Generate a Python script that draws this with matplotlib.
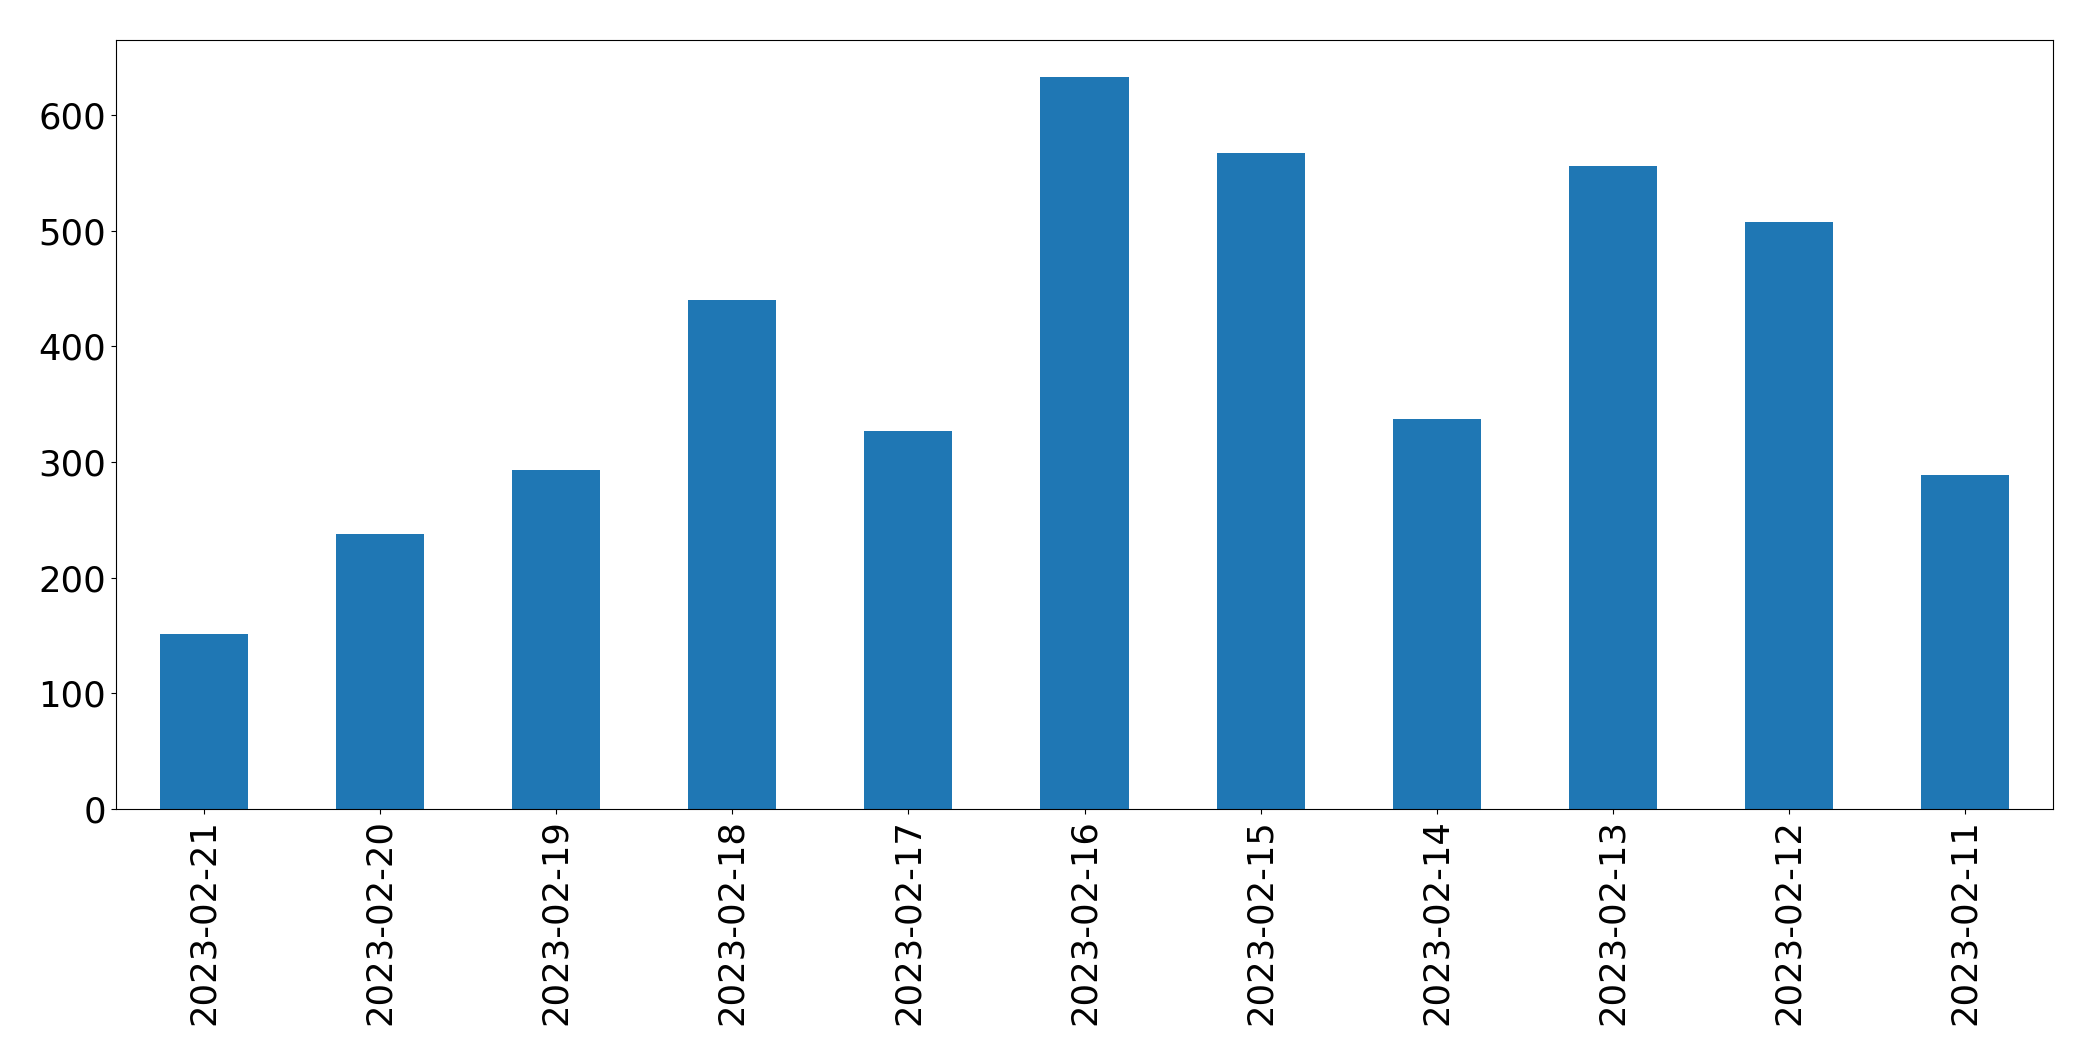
import matplotlib
matplotlib.use("Agg")
import matplotlib.pyplot as plt
import numpy as np

dates = ["2023-02-21", "2023-02-20", "2023-02-19", "2023-02-18", "2023-02-17",
         "2023-02-16", "2023-02-15", "2023-02-14", "2023-02-13", "2023-02-12",
         "2023-02-11"]
counts = [151, 238, 293, 440, 327, 633, 567, 337, 556, 507, 289]

fig = plt.figure(figsize=(20.93, 10.61), dpi=100)
ax = fig.add_axes([116/2093, 1 - 809/1061, (2053-116)/2093, (809-40)/1061])
x = np.arange(len(dates))
ax.bar(x, counts, width=0.5, color="#1f77b4")
ax.set_xlim(-0.5, len(dates) - 0.5)
ax.set_xticks(x)
ax.set_xticklabels(dates, rotation=90)
ax.tick_params(axis="both", labelsize=25.5)
ax.set_yticks([0, 100, 200, 300, 400, 500, 600])
fig.savefig("out.png", dpi=100)
